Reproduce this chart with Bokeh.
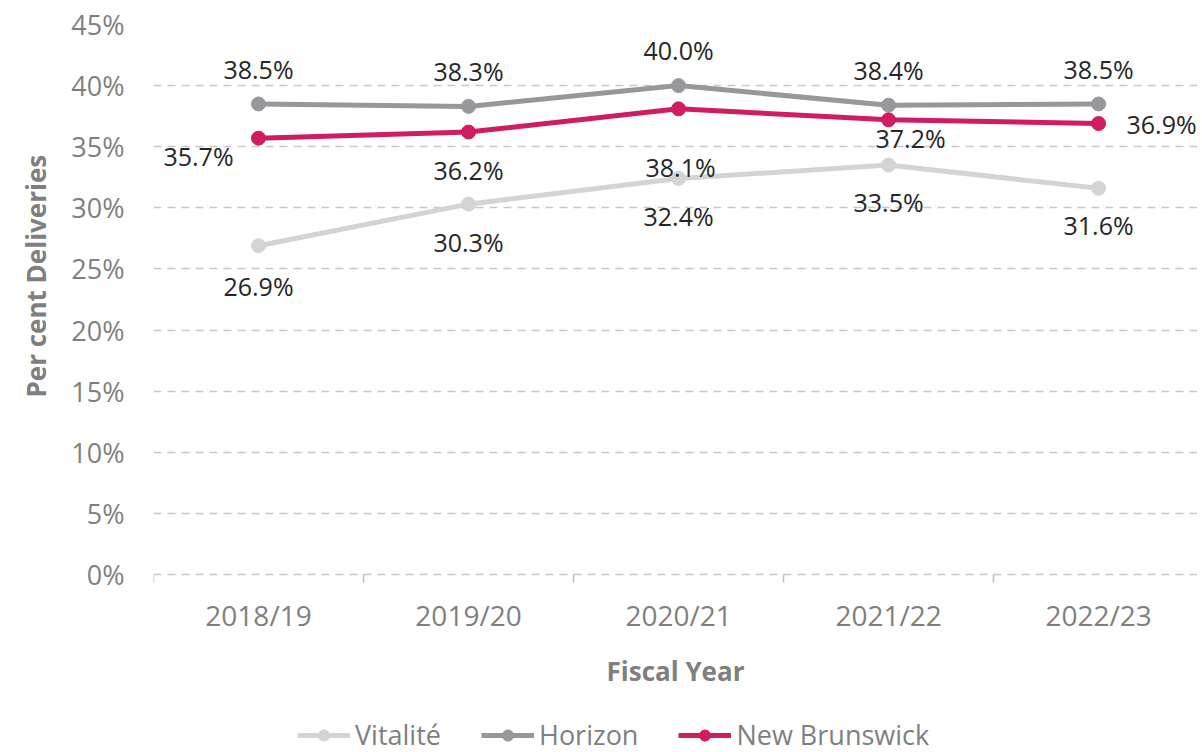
from bokeh.plotting import figure
from bokeh.models import (ColumnDataSource, Range1d, FixedTicker, PrintfTickFormatter,
                          Legend, LegendItem, Title)
from bokeh.core.properties import value
from bokeh.embed import file_html
from bokeh.resources import INLINE

categories = ["2018/19", "2019/20", "2020/21", "2021/22", "2022/23"]
y_ticks = [0, 5, 10, 15, 20, 25, 30, 35, 40, 45]

vitalite = [26.9, 30.3, 32.4, 33.5, 31.6]
horizon = [38.5, 38.3, 40.0, 38.4, 38.5]
new_brunswick = [35.7, 36.2, 38.1, 37.2, 36.9]

series_names = ["Vitalité", "Horizon", "New Brunswick"]
series_values = [vitalite, horizon, new_brunswick]
series_colors = ["#D3D4D6", "#98989C", "#D01C60"]

# label offsets in screen pixels (dx right, dy down)
label_dx = [[0, 0, 0, 0, 0], [0, 0, 0, 0, 0], [-60, 0, 2, 22, 63]]
label_dy = [[40, 38, 37, 37, 37], [-35, -35, -36, -35, -35], [18, 38, 58, 18, 0]]

FONT = "Open Sans"
GREY = "#7F7F7F"

x_idx = list(range(len(categories)))

# frame spans from the 45% line down to the page bottom so that the legend
# (drawn inside the frame) can sit below the axis, as in the reference
PX_PER_UNIT = 550 / 45
FRAME_H = 735
y_start = -(FRAME_H - 550) / PX_PER_UNIT

p = figure(frame_width=1044, frame_height=FRAME_H, min_border_left=152, min_border_right=0,
           min_border_top=24, min_border_bottom=0,
           x_range=Range1d(-0.5, 4.471), y_range=Range1d(y_start, 45),
           output_backend="svg", toolbar_location=None)
p.outline_line_color = None
p.background_fill_color = "white"
p.border_fill_color = "white"

# grids
p.xgrid.visible = False
p.ygrid.ticker = FixedTicker(ticks=y_ticks)
p.ygrid.grid_line_color = "#C8C8C8"
p.ygrid.grid_line_dash = "8 6"
p.ygrid.grid_line_width = 1.5

# y axis
p.yaxis.ticker = FixedTicker(ticks=y_ticks)
p.yaxis.formatter = PrintfTickFormatter(format="%d%%")
p.yaxis.axis_line_color = None
p.yaxis.major_tick_line_color = None
p.yaxis.minor_tick_line_color = None
p.yaxis.major_tick_out = 0
p.yaxis.major_label_standoff = 29
p.yaxis.major_label_text_font = FONT
p.yaxis.major_label_text_font_size = "27px"
p.yaxis.major_label_text_color = GREY

# y-axis title, positioned along the 0%-45% span
ytitle = Title(text="Per cent Deliveries", align="left", offset=(FRAME_H - 550) + 177,
               text_font=FONT, text_font_style="bold", text_font_size="26px",
               text_color=GREY, standoff=30)
p.add_layout(ytitle, "left")

# x axis (drawn at the 0% line)
p.xaxis.fixed_location = 0
p.xaxis.ticker = FixedTicker(ticks=x_idx, minor_ticks=[i - 0.5 for i in range(len(categories) + 1)])
p.xaxis.major_label_overrides = {i: c for i, c in enumerate(categories)}
p.xaxis.axis_line_color = None
p.xaxis.major_tick_line_color = None
p.xaxis.major_tick_out = 0
p.xaxis.major_tick_in = 0
p.xaxis.minor_tick_line_color = "#BFBFBF"
p.xaxis.minor_tick_line_width = 1.5
p.xaxis.minor_tick_out = 8
p.xaxis.minor_tick_in = 0
p.xaxis.major_label_standoff = 13
p.xaxis.major_label_text_font = FONT
p.xaxis.major_label_text_font_size = "28px"
p.xaxis.major_label_text_color = GREY
p.xaxis.axis_label = "Fiscal Year"
p.xaxis.axis_label_text_font = FONT
p.xaxis.axis_label_text_font_style = "bold"
p.xaxis.axis_label_text_font_size = "26px"
p.xaxis.axis_label_text_color = GREY
p.xaxis.axis_label_standoff = 16

items = []
for name, vals, color, dx, dy in zip(series_names, series_values, series_colors, label_dx, label_dy):
    src = ColumnDataSource(dict(x=x_idx, y=vals, lbl=[f"{v:.1f}%" for v in vals], dx=dx, dy=dy))
    r1 = p.line("x", "y", source=src, line_color=color, line_width=5)
    r2 = p.scatter("x", "y", source=src, marker="circle", size=14, fill_color=color, line_color=color)
    p.text("x", "y", text="lbl", source=src, x_offset="dx", y_offset="dy",
           text_font=value(FONT), text_font_size="25px", text_color="#262626",
           text_align="center", text_baseline="middle")
    items.append(LegendItem(label=name, renderers=[r1, r2]))

legend = Legend(items=items, orientation="horizontal", location=(144, 6),
                padding=0, margin=0, spacing=40, glyph_width=53, glyph_height=28,
                label_height=28, label_standoff=5,
                label_text_font=FONT, label_text_font_size="27px", label_text_color=GREY,
                border_line_color=None, background_fill_alpha=0)
p.add_layout(legend)

open("out.html", "w").write(file_html(p, INLINE))
